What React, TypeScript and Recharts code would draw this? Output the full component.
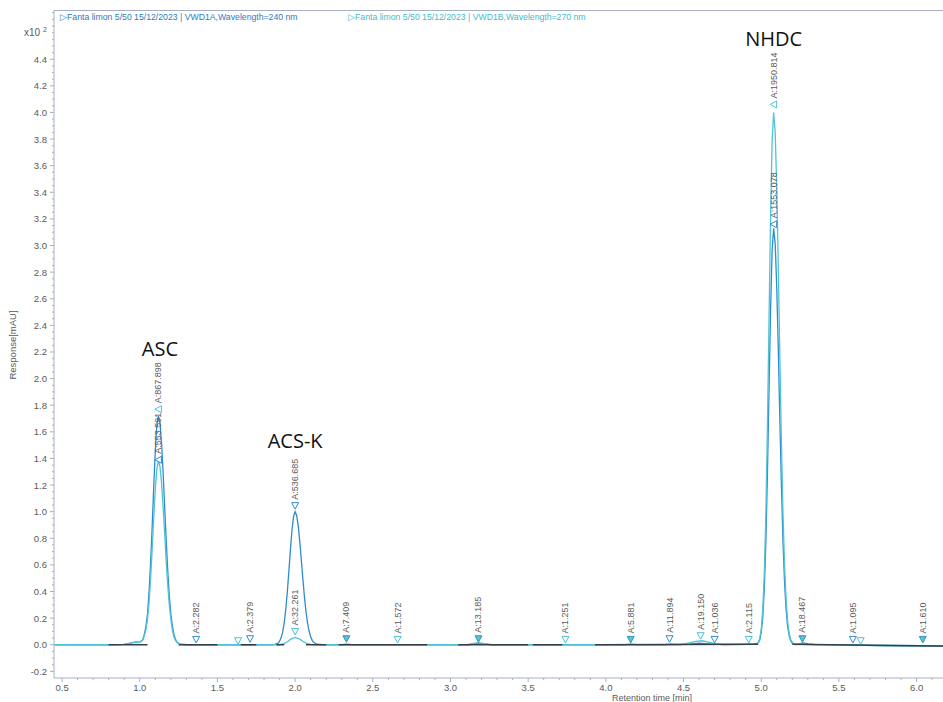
import React from "react";
import { ComposedChart, Line, Scatter, XAxis, YAxis } from "recharts";

// VWD1A, 240 nm
const trace240Time = [
  0.45, 0.8, 0.9, 0.94, 0.97, 1.0, 1.01, 1.02, 1.03, 1.04, 1.05, 1.06, 1.07, 1.08, 1.09, 1.1, 1.11, 1.12,
  1.13, 1.14, 1.15, 1.16, 1.17, 1.18, 1.19, 1.2, 1.21, 1.22, 1.23, 1.24, 1.26, 1.3,
  1.85, 1.87, 1.89, 1.9, 1.91, 1.92, 1.93, 1.94, 1.95, 1.96, 1.97, 1.98, 1.99, 2.0, 2.01, 2.02, 2.03, 2.04,
  2.05, 2.06, 2.07, 2.08, 2.09, 2.1, 2.11, 2.12, 2.14, 2.18,
  2.3, 2.33, 2.37, 3.12, 3.16, 3.18, 3.21, 3.26, 4.12, 4.16, 4.2, 4.38, 4.41, 4.45, 4.54, 4.6, 4.66, 4.74,
  4.9, 4.96, 4.98, 4.99, 5.0, 5.01, 5.02, 5.03, 5.04, 5.05, 5.06, 5.07, 5.08, 5.09, 5.1, 5.11, 5.12, 5.13,
  5.14, 5.15, 5.16, 5.17, 5.18, 5.19, 5.2, 5.22, 5.24, 5.27, 5.3, 5.34, 5.6, 5.72, 5.9, 6.17,
];
const trace240Resp = [
  0, 0, 0.003, 0.012, 0.02, 0.022, 0.027, 0.04, 0.08, 0.14, 0.23, 0.4, 0.62, 0.89, 1.19, 1.46, 1.65, 1.72,
  1.67, 1.52, 1.3, 1.04, 0.79, 0.56, 0.37, 0.23, 0.14, 0.076, 0.04, 0.019, 0.005, 0,
  0, 0.002, 0.012, 0.026, 0.052, 0.097, 0.167, 0.269, 0.401, 0.558, 0.72, 0.864, 0.964, 1.0, 0.972, 0.893, 0.775, 0.636,
  0.492, 0.36, 0.249, 0.163, 0.101, 0.059, 0.033, 0.017, 0.004, 0,
  0, 0.004, 0, 0, 0.008, 0.01, 0.006, 0, 0, 0.004, 0, 0, 0.005, 0.002, 0.005, 0.012, 0.007, 0.002,
  0.003, 0.006, 0.0125, 0.034, 0.091, 0.207, 0.423, 0.779, 1.286, 1.9, 2.507, 2.961, 3.13, 3.011, 2.682, 2.213, 1.687, 1.193,
  0.779, 0.473, 0.266, 0.138, 0.066, 0.029, 0.012, 0.002, 0.006, 0.014, 0.006, 0.002, 0, -0.006, -0.009, -0.01,
];

// VWD1B, 270 nm
const trace270Time = [
  0.45, 0.8, 0.9, 0.94, 0.97, 1.0, 1.01, 1.02, 1.03, 1.04, 1.05, 1.06, 1.07, 1.08, 1.09, 1.1, 1.11, 1.12,
  1.13, 1.14, 1.15, 1.16, 1.17, 1.18, 1.19, 1.2, 1.21, 1.22, 1.23, 1.24, 1.26, 1.3,
  1.9, 1.93, 1.95, 1.97, 2.0, 2.03, 2.05, 2.07, 2.1, 2.14,
  3.1, 3.14, 3.18, 3.22, 3.27, 4.48, 4.53, 4.58, 4.62, 4.66, 4.71, 4.76,
  4.97, 4.98, 4.99, 5.0, 5.01, 5.02, 5.03, 5.04, 5.05, 5.06, 5.07, 5.08, 5.09, 5.1, 5.11, 5.12, 5.13,
  5.14, 5.15, 5.16, 5.17, 5.18, 5.19, 5.2, 5.22, 5.26, 5.29, 5.35, 5.7, 6.17,
];
const trace270Resp = [
  0, 0, 0.003, 0.012, 0.02, 0.022, 0.025, 0.035, 0.07, 0.115, 0.19, 0.32, 0.5, 0.72, 0.96, 1.17, 1.32, 1.38,
  1.34, 1.22, 1.04, 0.84, 0.63, 0.45, 0.3, 0.19, 0.11, 0.06, 0.032, 0.016, 0.004, 0,
  0, 0.008, 0.022, 0.04, 0.055, 0.042, 0.026, 0.012, 0.003, 0,
  0, 0.008, 0.016, 0.008, 0, 0, 0.012, 0.026, 0.03, 0.02, 0.006, 0,
  0.004, 0.016, 0.044, 0.116, 0.264, 0.54, 0.996, 1.644, 2.428, 3.204, 3.784, 4.0, 3.848, 3.428, 2.828, 2.156, 1.524,
  0.996, 0.604, 0.34, 0.176, 0.084, 0.038, 0.016, 0.002, 0.008, 0.003, 0, -0.004, -0.008,
];

// integration baseline segments (null = gap)
const baselineTime = [
  0.8, 1.05, 1.06, 1.25, 1.5, 1.51, 1.65, 1.75, 1.76, 1.88, 1.93, 1.94, 2.07, 2.2, 2.21, 2.28, 2.85, 2.86,
  3.05, 3.5, 3.51, 3.53, 3.72, 3.73, 3.93, 4.98, 4.99, 5.2, 5.7, 6.17,
];
const baselineResp = [
  0, 0, null, 0, 0, null, 0, 0, null, 0, 0, null, 0, 0, null, 0, 0, null,
  0, 0, null, 0, 0, null, 0, 0.004, null, 0.004, -0.004, -0.01,
];

// peak marks
const markTime = [1.12, 1.12, 1.363, 1.633, 1.71, 2.0, 2.0, 2.33, 2.66, 3.18, 3.74, 4.16, 4.41, 4.61, 4.7, 4.92, 5.08, 5.08, 5.265, 5.59, 5.64, 6.04];
const markResp = [1.77, 1.39, 0.04, 0.03, 0.045, 1.045, 0.1, 0.045, 0.04, 0.045, 0.04, 0.04, 0.045, 0.068, 0.04, 0.04, 4.06, 3.16, 0.045, 0.04, 0.03, 0.04];
const markLabel = [
  "A:867.898", "A:553.591", "A:2.282", "", "A:2.379", "A:536.685", "A:32.261", "A:7.409", "A:1.572", "A:13.185", "A:1.251",
  "A:5.881", "A:11.894", "A:19.150", "A:1.036", "A:2.115", "A:1950.814", "A:1553.078", "A:18.467", "A:1.095", "", "A:1.610",
];
const markKind = ["left", "left", "down", "down", "down", "down", "down", "down", "down", "down", "down", "down", "down", "down", "down", "down", "left", "left", "down", "down", "down", "down"];
const markColor = ["#4cc3d6", "#2f8ccf", "#2f8ccf", "#4cc3d6", "#2f8ccf", "#2f8ccf", "#4cc3d6", "#2a9cc0", "#4cc3d6", "#2a9cc0", "#4cc3d6", "#2a9cc0", "#2f8ccf", "#4cc3d6", "#2f8ccf", "#4cc3d6", "#4cc3d6", "#2f8ccf", "#2a9cc0", "#2f8ccf", "#4cc3d6", "#2a9cc0"];
const markFilled = [false, false, false, false, false, false, false, true, false, true, false, true, false, false, false, false, false, false, true, false, false, true];

// compound names
const compoundName = ["ASC", "ACS-K", "NHDC"];
const compoundTime = [1.13, 2.0, 5.08];
const compoundResp = [2.17, 1.48, 4.5];

const xMajor = [0.5, 1.0, 1.5, 2.0, 2.5, 3.0, 3.5, 4.0, 4.5, 5.0, 5.5, 6.0];
const yMajor = [-0.2, 0.0, 0.2, 0.4, 0.6, 0.8, 1.0, 1.2, 1.4, 1.6, 1.8, 2.0, 2.2, 2.4, 2.6, 2.8, 3.0, 3.2, 3.4, 3.6, 3.8, 4.0, 4.2, 4.4];

const AXIS = "#a7afc4";
const TXT = "#5a5a5a";
const FONT = "'Liberation Sans', Arial, sans-serif";
const C240 = "#2f8ccf";
const C270 = "#4fc4d6";
const DARK = "#34404c";

const xTicks: number[] = [];
for (let i = 5; i <= 61; i++) xTicks.push(i / 10);
const yTicks: number[] = [];
for (let i = -4; i <= 95; i++) yTicks.push(Math.round(i * 5) / 100);

const isMajor = (list: number[], v: number) => list.some((m) => Math.abs(m - v) < 1e-6);

const toRows = (ts: number[], vs: (number | null)[]) => ts.map((t, i) => ({ t, v: vs[i] }));

const marks = markTime.map((t, i) => ({
  t,
  v: markResp[i],
  label: markLabel[i],
  kind: markKind[i],
  color: markColor[i],
  filled: markFilled[i],
}));
const names = compoundName.map((name, i) => ({ t: compoundTime[i], v: compoundResp[i], name }));

function XTick(props: any) {
  const { x, y, payload } = props;
  const major = isMajor(xMajor, payload.value);
  return (
    <g>
      <line x1={x} x2={x} y1={y} y2={y + (major ? 4 : 2)} stroke={AXIS} />
      {major && (
        <text x={x} y={y + 13} textAnchor="middle" fontSize={9.5} fill={TXT} fontFamily={FONT}>
          {payload.value.toFixed(1)}
        </text>
      )}
    </g>
  );
}

function YTick(props: any) {
  const { x, y, payload } = props;
  const major = isMajor(yMajor, payload.value);
  return (
    <g>
      <line x1={x - (major ? 4 : 2)} x2={x} y1={y} y2={y} stroke={AXIS} />
      {major && (
        <text x={x - 7} y={y + 3.5} textAnchor="end" fontSize={9.5} fill={TXT} fontFamily={FONT}>
          {payload.value.toFixed(1)}
        </text>
      )}
    </g>
  );
}

function MarkShape(props: any) {
  const { cx, cy, payload } = props;
  const tri =
    payload.kind === "left"
      ? `${cx + 3},${cy - 3.5} ${cx + 3},${cy + 3.5} ${cx - 3.5},${cy}`
      : `${cx - 3.5},${cy - 3} ${cx + 3.5},${cy - 3} ${cx},${cy + 3.5}`;
  return (
    <g>
      <polygon
        points={tri}
        fill={payload.filled ? payload.color : "#ffffff"}
        fillOpacity={payload.filled ? 0.7 : 0.6}
        stroke={payload.color}
        strokeWidth={1}
      />
      {payload.label && (
        <text
          transform={`translate(${cx},${cy - 6}) rotate(-90)`}
          dy={3}
          fontSize={9}
          fill={TXT}
          fontFamily={FONT}
        >
          {payload.label}
        </text>
      )}
    </g>
  );
}

function NameShape(props: any) {
  const { cx, cy, payload } = props;
  return (
    <text x={cx} y={cy} textAnchor="middle" fontSize={20} fill="#111" fontFamily="'Open Sans', sans-serif">
      {payload.name}
    </text>
  );
}

export default function App() {
  return (
    <div style={{ position: "absolute", left: 0, top: 0, width: 943, height: 702, background: "#fff" }}>
      <ComposedChart width={943} height={702} margin={{ top: 10, right: 0, bottom: 0, left: 0 }}>
        <XAxis
          dataKey="t"
          type="number"
          domain={[0.448, 6.17]}
          allowDataOverflow
          ticks={xTicks}
          interval={0}
          tick={<XTick />}
          tickLine={false}
          tickSize={0}
          tickMargin={0}
          height={24}
          stroke={AXIS}
        />
        <YAxis
          type="number"
          domain={[-0.25, 4.77]}
          allowDataOverflow
          ticks={yTicks}
          interval={0}
          tick={<YTick />}
          tickLine={false}
          tickSize={0}
          tickMargin={0}
          width={54}
          stroke={AXIS}
        />
        <Line data={toRows(trace240Time, trace240Resp)} dataKey="v" type="linear" dot={false} stroke={C240} strokeWidth={1.3} isAnimationActive={false} />
        <Line data={toRows(trace270Time, trace270Resp)} dataKey="v" type="linear" dot={false} stroke={C270} strokeWidth={1.3} isAnimationActive={false} />
        <Line
          data={toRows(baselineTime, baselineResp)}
          dataKey="v"
          type="linear"
          dot={false}
          connectNulls={false}
          stroke={DARK}
          strokeWidth={1.5}
          isAnimationActive={false}
        />
        <Scatter data={marks} dataKey="v" shape={<MarkShape />} isAnimationActive={false} />
        <Scatter data={names} dataKey="v" shape={<NameShape />} isAnimationActive={false} />
      </ComposedChart>
      <svg width={943} height={702} style={{ position: "absolute", left: 0, top: 0, pointerEvents: "none" }}>
        <line x1={54} x2={943} y1={10.5} y2={10.5} stroke={AXIS} />
        <text x={60} y={20} fontSize={8.7} fill="#2b7bbf" fontFamily={FONT}>
          ▷Fanta limon 5/50 15/12/2023 | VWD1A,Wavelength=240 nm
        </text>
        <text x={348} y={20} fontSize={8.7} fill="#3fbccc" fontFamily={FONT}>
          ▷Fanta limon 5/50 15/12/2023 | VWD1B,Wavelength=270 nm
        </text>
        <text x={24} y={36} fontSize={10} fill={TXT} fontFamily={FONT}>
          x10
        </text>
        <text x={43} y={32} fontSize={7} fill={TXT} fontFamily={FONT}>
          2
        </text>
        <text transform="translate(16,345) rotate(-90)" textAnchor="middle" fontSize={9.5} fill={TXT} fontFamily={FONT}>
          Response[mAU]
        </text>
        <text x={652} y={701} textAnchor="middle" fontSize={9} fill={TXT} fontFamily={FONT}>
          Retention time [min]
        </text>
      </svg>
    </div>
  );
}
